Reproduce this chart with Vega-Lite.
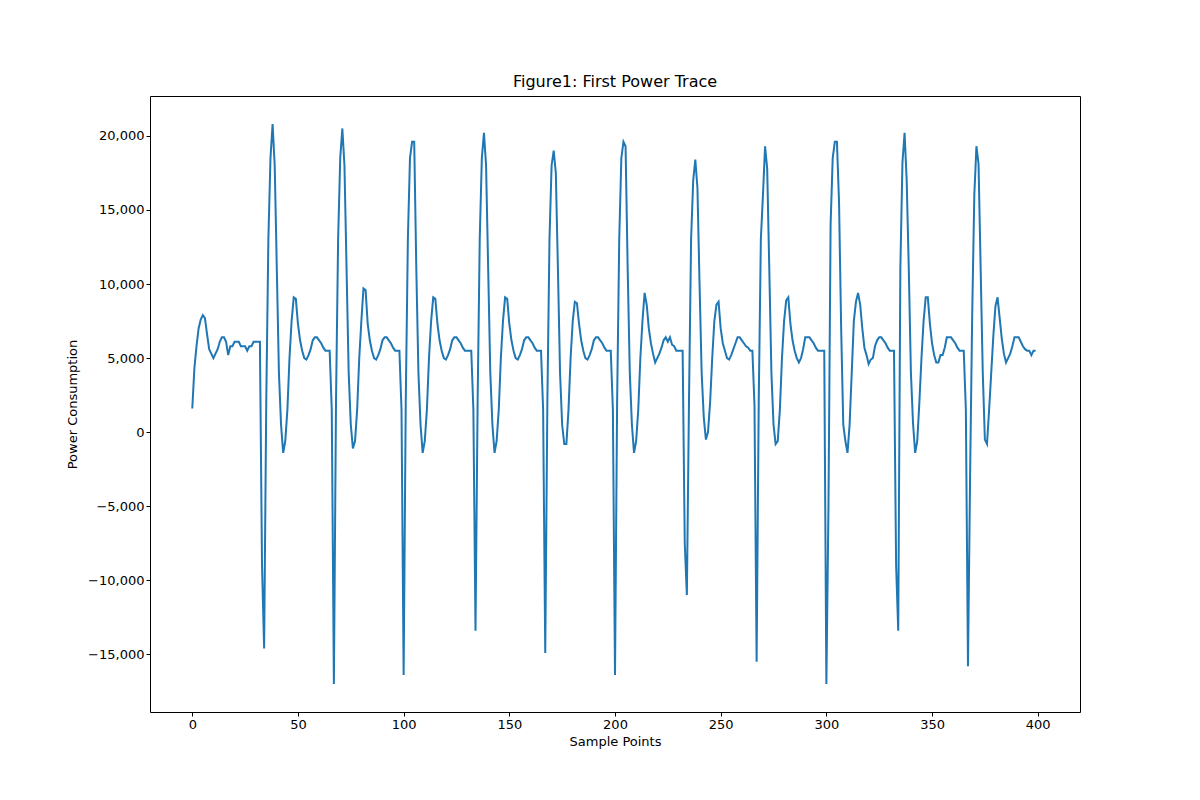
{
  "$schema": "https://vega.github.io/schema/vega-lite/v6.json",
  "width": 930,
  "height": 616,
  "autosize": {"type": "none"},
  "padding": {"left": 150, "top": 96, "right": 120, "bottom": 88},
  "background": "white",
  "title": {"text": "Figure1: First Power Trace", "font": "DejaVu Sans", "fontSize": 16, "fontWeight": "normal", "color": "black", "offset": 6},
  "config": {"view": {"stroke": "black", "strokeWidth": 1}},
  "data": {"values": [
{"x":0,"y":1600},{"x":1,"y":4300},{"x":2,"y":5800},{"x":3,"y":7000},{"x":4,"y":7600},{"x":5,"y":7900},{"x":6,"y":7700},{"x":7,"y":6600},{"x":8,"y":5600},{"x":9,"y":5300},
{"x":10,"y":5000},{"x":11,"y":5300},{"x":12,"y":5600},{"x":13,"y":6100},{"x":14,"y":6400},{"x":15,"y":6400},{"x":16,"y":6100},{"x":17,"y":5200},{"x":18,"y":5800},{"x":19,"y":5800},
{"x":20,"y":6100},{"x":21,"y":6100},{"x":22,"y":6100},{"x":23,"y":5800},{"x":24,"y":5800},{"x":25,"y":5800},{"x":26,"y":5500},{"x":27,"y":5800},{"x":28,"y":5800},{"x":29,"y":6100},
{"x":30,"y":6100},{"x":31,"y":6100},{"x":32,"y":6100},{"x":33,"y":-9000},
{"x":34,"y":-14600},{"x":35,"y":2000},{"x":36,"y":13000},{"x":37,"y":18500},{"x":38,"y":20800},{"x":39,"y":18000},{"x":40,"y":11000},{"x":41,"y":4000},{"x":42,"y":500},{"x":43,"y":-1400},
{"x":44,"y":-600},{"x":45,"y":1500},{"x":46,"y":5000},{"x":47,"y":7500},{"x":48,"y":9100},{"x":49,"y":9000},{"x":50,"y":7300},{"x":51,"y":6200},{"x":52,"y":5500},{"x":53,"y":5000},
{"x":54,"y":4900},{"x":55,"y":5200},{"x":56,"y":5600},{"x":57,"y":6200},{"x":58,"y":6400},{"x":59,"y":6400},{"x":60,"y":6200},{"x":61,"y":6000},{"x":62,"y":5700},{"x":63,"y":5500},
{"x":64,"y":5500},{"x":65,"y":5500},{"x":66,"y":1500},
{"x":67,"y":-17000},{"x":68,"y":2000},{"x":69,"y":13000},{"x":70,"y":18500},{"x":71,"y":20500},{"x":72,"y":18000},{"x":73,"y":11000},{"x":74,"y":4000},{"x":75,"y":500},{"x":76,"y":-1100},
{"x":77,"y":-600},{"x":78,"y":1500},{"x":79,"y":5000},{"x":80,"y":7500},{"x":81,"y":9700},{"x":82,"y":9600},{"x":83,"y":7300},{"x":84,"y":6200},{"x":85,"y":5500},{"x":86,"y":5000},
{"x":87,"y":4900},{"x":88,"y":5200},{"x":89,"y":5600},{"x":90,"y":6200},{"x":91,"y":6400},{"x":92,"y":6400},{"x":93,"y":6200},{"x":94,"y":6000},{"x":95,"y":5700},{"x":96,"y":5500},
{"x":97,"y":5500},{"x":98,"y":5500},{"x":99,"y":1500},
{"x":100,"y":-16400},{"x":101,"y":2000},{"x":102,"y":13000},{"x":103,"y":18500},{"x":104,"y":19600},{"x":105,"y":19600},{"x":106,"y":11000},{"x":107,"y":4000},{"x":108,"y":500},{"x":109,"y":-1400},
{"x":110,"y":-600},{"x":111,"y":1500},{"x":112,"y":5000},{"x":113,"y":7500},{"x":114,"y":9100},{"x":115,"y":9000},{"x":116,"y":7300},{"x":117,"y":6200},{"x":118,"y":5500},{"x":119,"y":5000},
{"x":120,"y":4900},{"x":121,"y":5200},{"x":122,"y":5600},{"x":123,"y":6200},{"x":124,"y":6400},{"x":125,"y":6400},{"x":126,"y":6200},{"x":127,"y":6000},{"x":128,"y":5700},{"x":129,"y":5500},
{"x":130,"y":5500},{"x":131,"y":5500},{"x":132,"y":5500},{"x":133,"y":1500},
{"x":134,"y":-13400},{"x":135,"y":2000},{"x":136,"y":13000},{"x":137,"y":18500},{"x":138,"y":20200},{"x":139,"y":18000},{"x":140,"y":11000},{"x":141,"y":4000},{"x":142,"y":500},{"x":143,"y":-1400},
{"x":144,"y":-600},{"x":145,"y":1500},{"x":146,"y":5000},{"x":147,"y":7500},{"x":148,"y":9100},{"x":149,"y":9000},{"x":150,"y":7300},{"x":151,"y":6200},{"x":152,"y":5500},{"x":153,"y":5000},
{"x":154,"y":4900},{"x":155,"y":5200},{"x":156,"y":5600},{"x":157,"y":6200},{"x":158,"y":6400},{"x":159,"y":6400},{"x":160,"y":6200},{"x":161,"y":6000},{"x":162,"y":5700},{"x":163,"y":5500},
{"x":164,"y":5500},{"x":165,"y":5500},{"x":166,"y":1500},
{"x":167,"y":-14900},{"x":168,"y":2000},{"x":169,"y":13000},{"x":170,"y":18000},{"x":171,"y":19000},{"x":172,"y":17500},{"x":173,"y":11000},{"x":174,"y":4000},{"x":175,"y":500},{"x":176,"y":-800},
{"x":177,"y":-800},{"x":178,"y":1500},{"x":179,"y":5000},{"x":180,"y":7500},{"x":181,"y":8800},{"x":182,"y":8700},{"x":183,"y":7300},{"x":184,"y":6200},{"x":185,"y":5500},{"x":186,"y":5000},
{"x":187,"y":4900},{"x":188,"y":5200},{"x":189,"y":5600},{"x":190,"y":6200},{"x":191,"y":6400},{"x":192,"y":6400},{"x":193,"y":6200},{"x":194,"y":6000},{"x":195,"y":5700},{"x":196,"y":5500},
{"x":197,"y":5500},{"x":198,"y":5500},{"x":199,"y":1500},
{"x":200,"y":-16400},{"x":201,"y":2000},{"x":202,"y":13000},{"x":203,"y":18500},{"x":204,"y":19600},{"x":205,"y":19300},{"x":206,"y":11000},{"x":207,"y":4000},{"x":208,"y":500},{"x":209,"y":-1400},
{"x":210,"y":-600},{"x":211,"y":1500},{"x":212,"y":5000},{"x":213,"y":7500},{"x":214,"y":9400},{"x":215,"y":8600},{"x":216,"y":7000},{"x":217,"y":6000},{"x":218,"y":5300},{"x":219,"y":4700},
{"x":220,"y":5000},{"x":221,"y":5300},{"x":222,"y":5700},{"x":223,"y":6200},{"x":224,"y":6400},{"x":225,"y":6100},{"x":226,"y":6400},{"x":227,"y":5900},{"x":228,"y":5800},{"x":229,"y":5500},
{"x":230,"y":5500},{"x":231,"y":5500},{"x":232,"y":5500},{"x":233,"y":-7500},
{"x":234,"y":-11000},{"x":235,"y":2000},{"x":236,"y":13000},{"x":237,"y":17000},{"x":238,"y":18400},{"x":239,"y":16500},{"x":240,"y":10000},{"x":241,"y":4000},{"x":242,"y":1000},{"x":243,"y":-500},
{"x":244,"y":0},{"x":245,"y":2000},{"x":246,"y":5000},{"x":247,"y":7500},{"x":248,"y":8600},{"x":249,"y":8800},{"x":250,"y":7000},{"x":251,"y":6000},{"x":252,"y":5500},{"x":253,"y":5000},
{"x":254,"y":4900},{"x":255,"y":5200},{"x":256,"y":5600},{"x":257,"y":6000},{"x":258,"y":6400},{"x":259,"y":6400},{"x":260,"y":6200},{"x":261,"y":6000},{"x":262,"y":5800},{"x":263,"y":5700},
{"x":264,"y":5500},{"x":265,"y":5500},{"x":266,"y":1800},
{"x":267,"y":-15500},{"x":268,"y":2000},{"x":269,"y":13000},{"x":270,"y":16000},{"x":271,"y":19300},{"x":272,"y":17800},{"x":273,"y":11000},{"x":274,"y":4000},{"x":275,"y":500},{"x":276,"y":-800},
{"x":277,"y":-600},{"x":278,"y":1500},{"x":279,"y":5000},{"x":280,"y":7500},{"x":281,"y":8900},{"x":282,"y":9100},{"x":283,"y":7300},{"x":284,"y":6200},{"x":285,"y":5500},{"x":286,"y":5000},
{"x":287,"y":4700},{"x":288,"y":5000},{"x":289,"y":5600},{"x":290,"y":6400},{"x":291,"y":6400},{"x":292,"y":6400},{"x":293,"y":6200},{"x":294,"y":6000},{"x":295,"y":5700},{"x":296,"y":5500},
{"x":297,"y":5500},{"x":298,"y":5500},{"x":299,"y":5500},
{"x":300,"y":-17000},{"x":301,"y":-5000},{"x":302,"y":14000},{"x":303,"y":18500},{"x":304,"y":19600},{"x":305,"y":19600},{"x":306,"y":15500},{"x":307,"y":7000},{"x":308,"y":500},{"x":309,"y":-600},
{"x":310,"y":-1400},{"x":311,"y":500},{"x":312,"y":4000},{"x":313,"y":7500},{"x":314,"y":8800},{"x":315,"y":9400},{"x":316,"y":8600},{"x":317,"y":7000},{"x":318,"y":5700},{"x":319,"y":5200},
{"x":320,"y":4600},{"x":321,"y":4900},{"x":322,"y":5000},{"x":323,"y":5800},{"x":324,"y":6200},{"x":325,"y":6400},{"x":326,"y":6400},{"x":327,"y":6200},{"x":328,"y":6000},{"x":329,"y":5700},
{"x":330,"y":5500},{"x":331,"y":5500},{"x":332,"y":5500},{"x":333,"y":-9000},
{"x":334,"y":-13400},{"x":335,"y":11000},{"x":336,"y":18200},{"x":337,"y":20200},{"x":338,"y":17000},{"x":339,"y":11000},{"x":340,"y":4000},{"x":341,"y":600},{"x":342,"y":-1400},{"x":343,"y":-600},
{"x":344,"y":2000},{"x":345,"y":5000},{"x":346,"y":7500},{"x":347,"y":9100},{"x":348,"y":9100},{"x":349,"y":7300},{"x":350,"y":6000},{"x":351,"y":5200},{"x":352,"y":4700},{"x":353,"y":4700},
{"x":354,"y":5200},{"x":355,"y":5200},{"x":356,"y":5700},{"x":357,"y":6400},{"x":358,"y":6400},{"x":359,"y":6400},{"x":360,"y":6200},{"x":361,"y":6000},{"x":362,"y":5700},{"x":363,"y":5500},
{"x":364,"y":5500},{"x":365,"y":5500},{"x":366,"y":1500},
{"x":367,"y":-15800},{"x":368,"y":-3000},{"x":369,"y":8000},{"x":370,"y":16000},{"x":371,"y":19300},{"x":372,"y":18100},{"x":373,"y":11000},{"x":374,"y":4000},{"x":375,"y":-500},{"x":376,"y":-800},
{"x":377,"y":1500},{"x":378,"y":4000},{"x":379,"y":6500},{"x":380,"y":8500},{"x":381,"y":9100},{"x":382,"y":7700},{"x":383,"y":6300},{"x":384,"y":5300},{"x":385,"y":4700},{"x":386,"y":5000},
{"x":387,"y":5300},{"x":388,"y":5800},{"x":389,"y":6400},{"x":390,"y":6400},{"x":391,"y":6400},{"x":392,"y":6100},{"x":393,"y":5800},{"x":394,"y":5600},{"x":395,"y":5500},{"x":396,"y":5500},
{"x":397,"y":5200},{"x":398,"y":5500},{"x":399,"y":5500}
  ]},
  "mark": {"type": "line", "color": "#1f77b4", "strokeWidth": 2},
  "encoding": {
    "x": {"field": "x", "type": "quantitative", "title": "Sample Points",
      "scale": {"domain": [-20, 420], "nice": false, "zero": false},
      "axis": {"values": [0, 50, 100, 150, 200, 250, 300, 350, 400], "grid": false, "labelFont": "DejaVu Sans", "titleFont": "DejaVu Sans", "labelFontSize": 13, "titleFontSize": 13, "titleFontWeight": "normal", "labelColor": "black", "titleColor": "black", "domain": false, "tickColor": "black", "tickSize": 4, "titlePadding": 4}},
    "y": {"field": "y", "type": "quantitative", "title": "Power Consumption",
      "scale": {"domain": [-18890, 22690], "nice": false, "zero": false},
      "axis": {"values": [-15000, -10000, -5000, 0, 5000, 10000, 15000, 20000], "grid": false, "labelFont": "DejaVu Sans", "titleFont": "DejaVu Sans", "labelFontSize": 13, "titleFontSize": 13, "titleFontWeight": "normal", "labelColor": "black", "titleColor": "black", "domain": false, "tickColor": "black", "tickSize": 4, "titlePadding": 8}}
  }
}
